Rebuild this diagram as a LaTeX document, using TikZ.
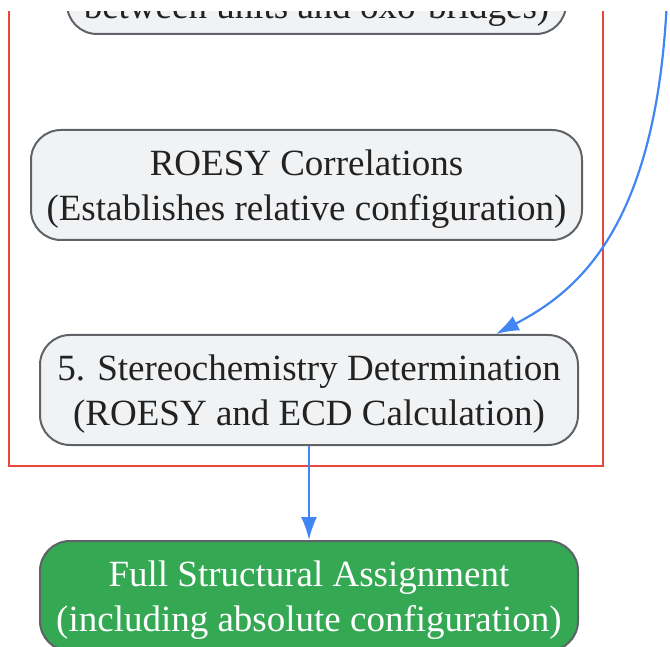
\documentclass[tikz,border=0pt]{standalone}
\usepackage{fontspec}
\setmainfont{Liberation Serif}
\usetikzlibrary{arrows.meta}
\definecolor{nodefill}{HTML}{F1F2F4}
\definecolor{nodeborder}{HTML}{5F6368}
\definecolor{clusterred}{HTML}{E8473A}
\definecolor{arrowblue}{HTML}{4285F4}
\definecolor{greenfill}{HTML}{34A853}
\definecolor{textdark}{HTML}{222222}
\tikzset{
  procbox/.style={draw=nodeborder, line width=2pt, fill=nodefill, rounded corners=30pt,
    minimum height=110pt, inner sep=0pt},
  finalbox/.style={procbox, fill=greenfill},
  boxtext/.style={align=center, text=textdark, inner sep=0pt, yshift=-4pt,
    font=\fontsize{37}{45}\selectfont},
  finaltext/.style={boxtext, text=white},
  flow/.style={draw=arrowblue, line width=2.2pt, -{Latex[length=23pt,width=16pt]}},
  cluster/.style={draw=clusterred, line width=2pt}
}
\begin{document}
\begin{tikzpicture}[x=1pt,y=-1pt]
\useasboundingbox (0,0) rectangle (670,647);
\clip (0,12) rectangle (670,647);
\draw[cluster] (9,-100) rectangle (603,466);
\node[procbox, minimum width=499pt] (top) at (316.5,-21) {};
\node[boxtext, yshift=-4pt] (top-t) at (top.center) {(Establishes connectivity\\between units and oxo-bridges)};
\node[procbox, minimum width=551pt] (roesy) at (306.5,185) {};
\node[boxtext] (roesy-t) at (roesy.center) {ROESY Correlations\\(Establishes relative configuration)};
\node[procbox, minimum width=538pt] (stereo) at (309,390) {};
\node[boxtext] (stereo-t) at (stereo.center) {5. Stereochemistry Determination\\(ROESY and ECD Calculation)};
\node[finalbox, minimum width=538pt] (final) at (309,596) {};
\node[finaltext] (final-t) at (final.center) {Full Structural Assignment\\(including absolute configuration)};
\coordinate (src) at (668,-60);
\draw[flow] (src) .. controls (670,220) and (580,290) .. ([xshift=187pt]stereo.north);
\draw[flow] (stereo.south) -- (final.north);
\end{tikzpicture}
\end{document}
